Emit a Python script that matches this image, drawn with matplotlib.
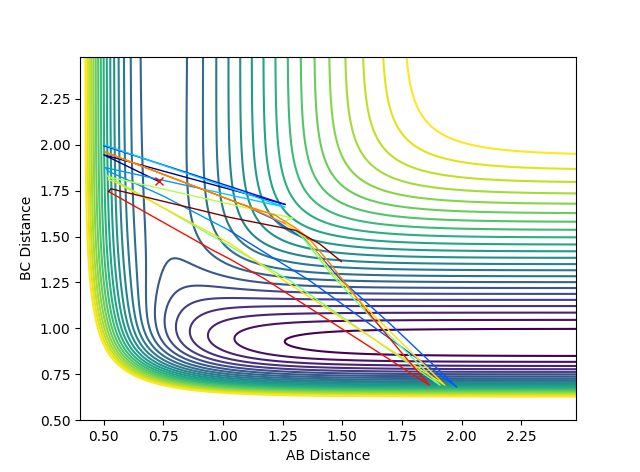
import numpy as np
import matplotlib
matplotlib.use("Agg")
import matplotlib.pyplot as plt

# LEPS parameters, kJ/mol and angstrom (A-B is H-H, B-C and A-C are H-F)
D_HH, BETA_HH, RE_HH, SATO_HH = 445.0, 1.942, 0.742, 0.20
D_HF, BETA_HF, RE_HF, SATO_HF = 590.7, 2.219, 0.917, 0.16

# contour levels (kJ/mol)
levels = np.linspace(-575.0, -115.0, 23)

# trajectory pieces: (AB, BC) points and colour
traj = [
    ([0.73, 0.50, 1.26], [1.80, 1.945, 1.675], "#000080"),
    ([1.26, 0.50], [1.675, 1.995], "#0010ff"),
    ([0.50, 1.26, 0.90], [2.00, 1.66, 1.763], "#00ccff"),
    ([0.90, 0.507, 0.52, 0.75, 1.026], [1.763, 1.875, 1.855, 1.72, 1.533], "#0098ff"),
    ([1.026, 1.362, 1.98, 1.70, 1.49, 1.35, 1.21, 1.12],
     [1.533, 1.261, 0.68, 1.025, 1.27, 1.478, 1.596, 1.65], "#0058ff"),
    ([0.515, 1.026, 1.28, 1.91, 1.62, 1.45, 1.33, 1.25],
     [1.83, 1.45, 1.26, 0.69, 1.06, 1.30, 1.50, 1.58], "#70ff88"),
    ([1.25, 1.292, 0.52, 0.52], [1.58, 1.60, 1.825, 1.81], "#b0ff48"),
    ([0.52, 0.55, 1.026, 1.25, 1.93, 1.64, 1.46, 1.34, 1.26],
     [1.81, 1.795, 1.465, 1.265, 0.69, 1.06, 1.30, 1.50, 1.57], "#ffe000"),
    ([1.26, 1.10, 0.505, 1.068, 1.22, 1.30, 1.36, 1.45, 1.60],
     [1.57, 1.665, 1.96, 1.680, 1.615, 1.55, 1.49, 1.35, 1.10], "#ff8000"),
    ([1.60, 1.74, 1.865, 1.173, 1.026, 0.956, 0.52],
     [1.10, 0.88, 0.69, 1.27, 1.379, 1.426, 1.745], "#f01000"),
    ([0.52, 0.53, 0.90, 1.026, 1.306, 1.405, 1.496],
     [1.745, 1.76, 1.645, 1.605, 1.533, 1.46, 1.364], "#800000"),
]
start_ab, start_bc = 0.73, 1.80


def q_and_j(r, d, beta, re, sato):
    e1 = np.exp(-beta * (r - re))
    e2 = e1 * e1
    q = d / 4 * ((3 + sato) * e2 - (2 + 6 * sato) * e1) / (1 + sato)
    j = d / 4 * ((1 + 3 * sato) * e2 - (6 + 2 * sato) * e1) / (1 + sato)
    return q, j


def leps(rab, rbc):
    qa, ja = q_and_j(rab, D_HH, BETA_HH, RE_HH, SATO_HH)
    qb, jb = q_and_j(rbc, D_HF, BETA_HF, RE_HF, SATO_HF)
    qc, jc = q_and_j(rab + rbc, D_HF, BETA_HF, RE_HF, SATO_HF)
    return qa + qb + qc - np.sqrt(0.5 * ((ja - jb) ** 2 + (jb - jc) ** 2 + (jc - ja) ** 2))


ab = np.arange(0.40, 2.481, 0.005)
bc = np.arange(0.50, 2.481, 0.005)
AB, BC = np.meshgrid(ab, bc)
V = leps(AB, BC)

fig, ax = plt.subplots(figsize=(6.4, 4.72))
ax.contour(AB, BC, V, levels=levels, cmap="viridis")
for xs, ys, c in traj:
    ax.plot(xs, ys, color=c, lw=1.0)
ax.plot(start_ab, start_bc, "rx")
ax.set_xlim(0.40, 2.48)
ax.set_ylim(0.50, 2.48)
ax.set_xticks(np.arange(0.5, 2.3, 0.25))
ax.set_yticks(np.arange(0.5, 2.3, 0.25))
ax.set_xlabel("AB Distance")
ax.set_ylabel("BC Distance")
fig.savefig("out.png", dpi=100)
